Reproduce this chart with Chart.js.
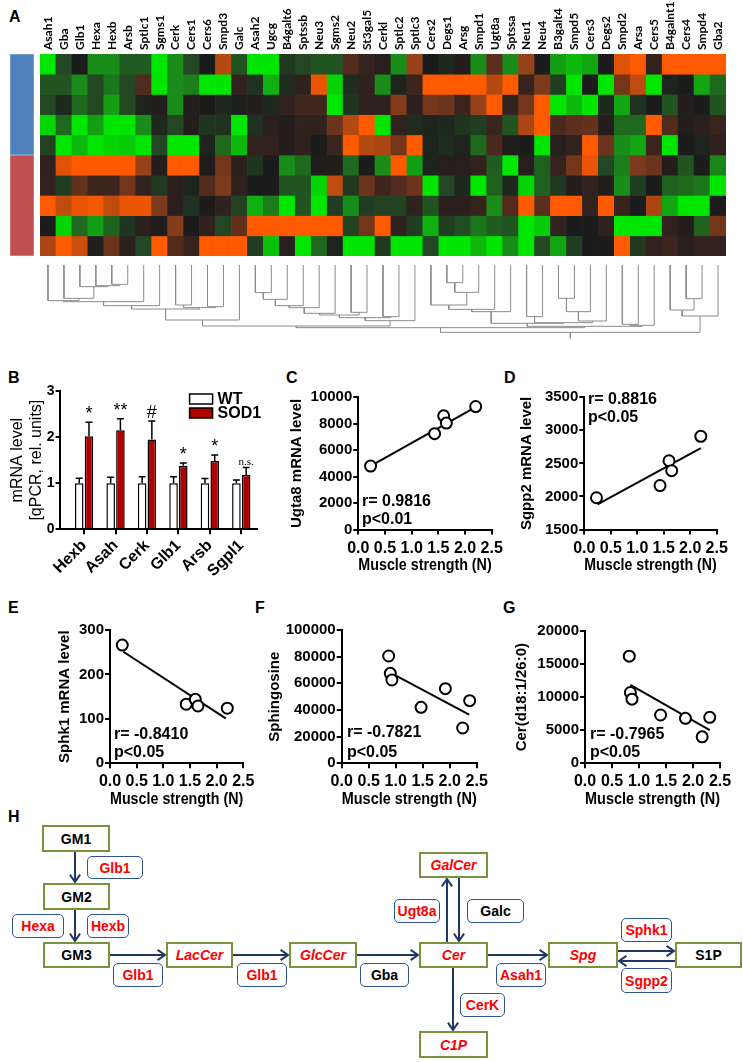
<!DOCTYPE html>
<html>
<head>
<meta charset="utf-8">
<script src="https://cdn.jsdelivr.net/npm/chart.js@4.4.1/dist/chart.umd.min.js"></script>
<style>
body{margin:0;background:#fff;width:743px;height:1062px;position:relative;overflow:hidden;font-family:"Liberation Sans",Arial,sans-serif;}
canvas{position:absolute;}
.lab{position:absolute;font-weight:bold;font-size:16px;line-height:18px;}
.box{position:absolute;box-sizing:border-box;display:flex;align-items:center;justify-content:center;font-weight:bold;font-size:14px;background:#fff;}
.g{border:2px solid #77933c;color:#000;}
.e{border:1.5px solid #2f5496;border-radius:5px;color:#f00;}
.it{color:#f00;font-style:italic;}
.k{color:#000;}
svg{position:absolute;left:0;top:0;}
</style>
</head>
<body>
<div class="lab" style="left:9px;top:8px">A</div>
<div class="lab" style="left:8px;top:369px">B</div>
<div class="lab" style="left:286px;top:369px">C</div>
<div class="lab" style="left:504px;top:369px">D</div>
<div class="lab" style="left:8px;top:599px">E</div>
<div class="lab" style="left:255px;top:599px">F</div>
<div class="lab" style="left:503px;top:599px">G</div>
<div class="lab" style="left:8px;top:808px">H</div>

<svg id="arrows" width="743" height="1062"></svg>

<div class="box g" style="left:42px;top:825px;width:68px;height:27px">GM1</div>
<div class="box e" style="left:87px;top:856px;width:56px;height:23px">Glb1</div>
<div class="box g" style="left:43px;top:883px;width:67px;height:27px">GM2</div>
<div class="box e" style="left:12px;top:914px;width:52px;height:24px">Hexa</div>
<div class="box e" style="left:87px;top:914px;width:42px;height:24px">Hexb</div>
<div class="box g" style="left:43px;top:942px;width:67px;height:26px">GM3</div>
<div class="box g it" style="left:166px;top:942px;width:67px;height:26px">LacCer</div>
<div class="box g it" style="left:289px;top:942px;width:68px;height:26px">GlcCer</div>
<div class="box g it" style="left:419px;top:942px;width:69px;height:26px">Cer</div>
<div class="box g it" style="left:548px;top:942px;width:70px;height:26px">Spg</div>
<div class="box g" style="left:675px;top:942px;width:67px;height:26px">S1P</div>
<div class="box g it" style="left:419px;top:852px;width:69px;height:26px">GalCer</div>
<div class="box g it" style="left:419px;top:1031px;width:69px;height:27px">C1P</div>
<div class="box e" style="left:113px;top:963px;width:50px;height:24px">Glb1</div>
<div class="box e" style="left:237px;top:963px;width:50px;height:24px">Glb1</div>
<div class="box e k" style="left:360px;top:963px;width:49px;height:24px">Gba</div>
<div class="box e" style="left:496px;top:963px;width:50px;height:24px">Asah1</div>
<div class="box e" style="left:621px;top:918px;width:51px;height:24px">Sphk1</div>
<div class="box e" style="left:621px;top:968px;width:51px;height:25px">Sgpp2</div>
<div class="box e" style="left:394px;top:899px;width:46px;height:24px">Ugt8a</div>
<div class="box e k" style="left:467px;top:899px;width:57px;height:24px">Galc</div>
<div class="box e" style="left:460px;top:993px;width:45px;height:24px">CerK</div>

<script>
// ---- panel A: heatmap ----
var genes = ['Asah1','Gba','Glb1','Hexa','Hexb','Arsb','Sptlc1','Sgms1','Cerk','Cers1','Cers6','Smpd3','Galc','Asah2','Ugcg','B4galt6','Sptssb','Neu3','Sgms2','Neu2','St3gal5','Cerkl','Sptlc2','Sptlc3','Cers2','Degs1','Arsg','Smpd1','Ugt8a','Sptssa','Neu1','Neu4','B3galt4','Smpd5','Cers3','Degs2','Smpd2','Arsa','Cers5','B4galnt1','Cers4','Smpd4','Gba2'];

var wt1 = [-3,-1,0,-2,-2,-1.3,-1.3,-3,-2,-1,0,2.3,-1.2,-3,-3,-0.7,-1,-1.2,-1.2,1.2,0.7,0.3,-2,2,0,-0.3,0.2,-2,1.3,-2,2,0,-2.2,-2.5,-2.3,0,2.7,3,0.6,3,3,3,3];
var wt2 = [-1.2,-1.2,-2,-1,-1.7,-1,1.2,-3,-2,-1.8,-3,-3,0.6,-0.5,-2.4,-0.4,0.5,2.8,-2.8,-0.4,0.5,-2,-0.2,0.9,3,3,3,3,2.3,3,0.7,1.7,-0.8,-3,0,-3,1.6,2.4,-3,-0.2,0,-2.3,-1.5];
var wt3 = [-1,-0.3,-1.5,-1,-2.2,-1,-0.2,0.2,-2,0.2,0,-0.3,-0.1,0.2,-0.3,0.6,1,1,-3,-0.6,0.5,0.5,1.8,0.4,1.6,1.5,0.8,2,3,0.6,1.6,3,-3,-2.5,-3,-0.3,-2.3,-0.5,0,-1.2,0.2,0,-1.2];
var wt4 = [-2.8,-1.5,-3,-2.2,-3,-3,-2,-0.3,-1,0.2,-0.6,-0.5,-3,-0.5,0.4,0.2,0.6,0.5,1.5,2.3,3,-3,0.6,-0.4,-0.2,-0.3,-0.6,-0.8,0.8,-1.2,2.2,3,1.1,1.3,1.4,0.2,-1.5,-1.5,3,1.2,0.2,0.4,0.8];
var wt5 = [-0.9,-3,-2.5,-3,-2.8,-2.7,-3,-1,-3,-3,-0.2,-1.5,-2.5,0.6,0.6,0.2,0.5,0,0.8,3,2.3,2.2,1.6,3,-0.2,-0.4,-0.2,-1.5,1.1,0.1,0,-3,0.3,0.6,3,1.5,-2,-2.3,0.8,-3,0,-0.2,0.5];
var sod1 = [0.5,2.7,3,3,3,3,2,0.2,3,3,0.1,1.6,0.4,-0.6,0,-2,-1.5,0.1,0.2,-1.5,0,-2,3,-2.2,-0.2,0.3,0.3,0.6,-1.3,-3,0.3,-1.4,0.7,1.6,2.8,-1,-1.8,1.7,1.5,0.2,-1.2,0,-1.9];
var sod2 = [0.6,-0.8,1.4,0.9,0.9,1.6,0.6,-0.7,0.4,-0.2,1.2,1.7,0.5,0,0,-1.2,-1.2,-2.8,2.4,-0.7,1.5,0.9,1.2,1.5,-3,-1,-0.3,-3,-1.4,-0.3,-2.8,-1.4,-0.7,0.2,0.6,0.2,-2,-0.8,0,-1.4,-1.5,-1.7,-3];
var sod3 = [3,2.4,2.8,2.9,2.4,2.8,2.8,1.7,0.4,-0.5,0,0.5,-0.9,-2.4,-1.8,-3,-1.2,-3,-0.8,-2,-0.8,-0.9,-0.9,0.5,-1.2,0.4,0.4,0.7,-2,1.2,3,1.3,3,3,0.6,3,0.7,0,2.2,-2.3,-3,-3,0];
var sod4 = [0,-2.8,-1.5,-2.2,-1.4,-0.6,0.4,0.1,1.8,0,0.5,-1,1.4,3,3,3,3,3,3,-0.9,1.6,3,0.5,-0.8,-2.4,-0.8,-1.1,-1.7,-1.3,-1.2,-3,-2.7,0.6,0,0,0.5,-3,-3,-3,0.6,0.2,-1.4,1.6];
var sod5 = [2.2,3,2.5,0.2,1.5,0.4,-1,3,1.2,0.7,3,3,3,-0.8,-2.6,0.3,-3,-1.5,-0.2,-3,-3,-0.7,-3,-3,-1,-3,-3,-2.5,-3,-2,-3,-1,-2.3,-0.8,0,0,3,-0.7,0.6,0.9,0.3,0.6,0.6];
var groupSizes = [5, 5];   // WT, SOD1

// dendrogram merges: [left node, right node, height]; leaves are 0..42
var merges = [
  [4,5,88],[3,43,92],[2,44,95],[1,45,130],[0,46,137],[47,6,140],[48,7,152],
  [8,9,150],[10,11,155],[50,51,158],[49,52,162],[53,12,195],
  [13,14,113],[55,15,133],[56,16,152],[57,17,158],[19,20,172],[58,18,175],[60,59,180],
  [21,22,185],[61,62,188],[63,23,197],[54,64,213],
  [25,26,83],[66,27,112],[24,67,150],[68,28,163],[69,29,170],[30,31,185],[32,33,130],
  [72,34,170],[73,35,198],[71,74,203],[70,75,205],[36,37,208],[77,38,211],[76,78,214],
  [65,79,218],[40,41,131],[39,81,165],[82,42,183],[80,83,232]
];

// ---- panel B ----
var bGenes = ['Hexb','Asah','Cerk','Glb1','Arsb','Sgpl1'];
var bWT = [1,1,1,1,1,1];
var bWTerr = [0.11,0.13,0.14,0.14,0.1,0.07];
var bSOD = [2.02,2.15,1.95,1.38,1.48,1.18];
var bSODerr = [0.3,0.25,0.4,0.06,0.13,0.16];
var bMarks = ['*','**','#','*','*','n.s.'];

// ---- panels C-G ----
var strength5 = [0.23,1.43,1.6,1.65,2.2];
var ugt8a = [4800,7250,8600,8050,9300];
var sgpp2 = [1980,2165,2540,2390,2910];
var sphk1 = [266,133,144,129,124];
var strengthF = [0.87,0.9,0.93,1.47,1.92,2.24,2.37];
var sphingosine = [80500,67500,62500,42000,56000,26500,47000];
var strengthG = [0.82,0.84,0.87,1.4,1.86,2.17,2.31];
var cer26 = [16200,10700,9700,7300,6800,4000,6950];

var fitC = [[0.25,2.2],[4850,9250]];
var fitD = [[0.25,2.2],[1880,2730]];
var fitE = [[0.25,2.17],[251,101]];
var fitF = [[0.9,2.36],[68000,36500]];
var fitG = [[0.84,2.31],[11850,5000]];

Chart.defaults.font.family = '"Liberation Sans", Arial, sans-serif';
Chart.defaults.color = '#000';

function mk(id, L, T, W, H){
  var c = document.createElement('canvas');
  c.id = id; c.width = W; c.height = H;
  c.style.left = L + 'px'; c.style.top = T + 'px';
  c.style.width = W + 'px'; c.style.height = H + 'px';
  document.body.appendChild(c);
  return c;
}

var stops = [[-3,[0,230,0]],[-2,[25,140,25]],[-1,[35,70,35]],[0,[28,28,28]],[1,[65,38,30]],[2,[150,65,25]],[3,[255,90,0]]];
function heatColor(v){
  v = Math.max(-3, Math.min(3, v));
  for (var i = 0; i < stops.length - 1; i++){
    var a = stops[i], b = stops[i+1];
    if (v <= b[0]){
      var t = (v - a[0]) / (b[0] - a[0]);
      var c = a[1].map(function(x, k){ return Math.round(x + (b[1][k] - x) * t); });
      return 'rgb(' + c.join(',') + ')';
    }
  }
  return 'rgb(255,90,0)';
}

var base = {responsive:false, animation:false, events:[], plugins:{legend:{display:false}, tooltip:{enabled:false}}};
function opts(extra){ return Object.assign({}, base, extra); }

// heatmap
var rows = [wt1,wt2,wt3,wt4,wt5,sod1,sod2,sod3,sod4,sod5];
new Chart(mk('heat',0,0,743,258), {
  type:'bar',
  data:{labels:genes, datasets:rows.map(function(r){
    return {data:r.map(function(){return 1;}), backgroundColor:r.map(heatColor), borderWidth:0, barPercentage:1, categoryPercentage:1};
  })},
  options:opts({
    layout:{padding:{left:40,right:17,top:0,bottom:2}},
    scales:{
      x:{position:'top', stacked:true, grid:{display:false, drawTicks:false}, border:{display:false},
         ticks:{autoSkip:false, minRotation:90, maxRotation:90, padding:4, labelOffset:14.4,
                font:{family:'Lato', weight:'bold', size:12}},
         afterFit:function(s){ s.height = 54; }},
      y:{stacked:true, display:false, min:0, max:10, reverse:true}
    }
  })
});

// group bar
new Chart(mk('grp',10,54,24,202), {
  type:'bar',
  data:{labels:[''], datasets:[
    {data:[groupSizes[0]], backgroundColor:'#4f81bd', borderColor:'#86a9d8', borderWidth:1, borderSkipped:false, barPercentage:1, categoryPercentage:1},
    {data:[groupSizes[1]], backgroundColor:'#c0504d', borderColor:'#d98a88', borderWidth:1, borderSkipped:false, barPercentage:1, categoryPercentage:1}
  ]},
  options:opts({
    layout:{padding:0},
    scales:{x:{stacked:true, display:false}, y:{stacked:true, display:false, min:0, max:10, reverse:true}}
  })
});

// dendrogram
var pos = [], hgt = [];
for (var i = 0; i < genes.length; i++){ pos[i] = i; hgt[i] = 30; }
var dsets = [];
merges.forEach(function(m, k){
  var id = genes.length + k;
  pos[id] = (pos[m[0]] + pos[m[1]]) / 2; hgt[id] = m[2];
  dsets.push({data:[{x:pos[m[0]],y:hgt[m[0]]},{x:pos[m[0]],y:m[2]},{x:pos[m[1]],y:m[2]},{x:pos[m[1]],y:hgt[m[1]]}],
    showLine:true, pointRadius:0, borderColor:'#8c8c8c', borderWidth:1});
});
var root = genes.length + merges.length - 1;
dsets.push({data:[{x:pos[root],y:hgt[root]},{x:pos[root],y:250}], showLine:true, pointRadius:0, borderColor:'#8c8c8c', borderWidth:1});
new Chart(mk('dendro',0,255,743,110), {
  type:'scatter',
  data:{datasets:dsets},
  options:opts({
    layout:{padding:{left:40,right:17,top:0,bottom:0}},
    scales:{x:{display:false,min:-0.5,max:42.5}, y:{display:false,min:0,max:330,reverse:true}}
  })
});

// ---- panel B ----
var plainNum = function(v){ return String(v); };
var barExtras = {
  id:'barExtras',
  afterDatasetsDraw:function(chart){
    var ctx = chart.ctx, ys = chart.scales.y;
    ctx.save();
    ctx.strokeStyle = '#000'; ctx.lineWidth = 1.5;
    [[bWT,bWTerr],[bSOD,bSODerr]].forEach(function(pair, d){
      chart.getDatasetMeta(d).data.forEach(function(el, i){
        var y0 = ys.getPixelForValue(pair[0][i]), y1 = ys.getPixelForValue(pair[0][i] + pair[1][i]);
        ctx.beginPath();
        ctx.moveTo(el.x, y0); ctx.lineTo(el.x, y1);
        ctx.moveTo(el.x - 3.5, y1); ctx.lineTo(el.x + 3.5, y1);
        ctx.stroke();
      });
    });
    ctx.fillStyle = '#000'; ctx.textAlign = 'center'; ctx.textBaseline = 'alphabetic';
    chart.getDatasetMeta(1).data.forEach(function(el, i){
      var y1 = ys.getPixelForValue(bSOD[i] + bSODerr[i]);
      ctx.font = bMarks[i] === 'n.s.' ? '11px "Liberation Serif", serif' : '18px "Liberation Sans", Arial';
      ctx.fillText(bMarks[i], el.x, y1 - 3);
    });
    // legend
    var a = chart.chartArea;
    var items = [['WT', '#fff'], ['SOD1', '#b00000']];
    items.forEach(function(it, k){
      var bx = a.left + 130, by = a.top + 3 + k * 14;
      ctx.fillStyle = it[1]; ctx.fillRect(bx, by, 23, 10);
      ctx.strokeStyle = '#000'; ctx.lineWidth = 1.5; ctx.strokeRect(bx, by, 23, 10);
      ctx.fillStyle = '#000'; ctx.font = 'bold 16px "Liberation Sans", Arial';
      ctx.textAlign = 'left'; ctx.textBaseline = 'middle';
      ctx.fillText(it[0], bx + 28, by + 5.5);
    });
    ctx.restore();
  }
};
new Chart(mk('barB',8,380,254,200), {
  type:'bar',
  data:{datasets:[
    {label:'WT', data:bWT.map(function(v,i){return {x:i,y:v};}), backgroundColor:'#fff', borderColor:'#000', borderWidth:1.5},
    {label:'SOD1', data:bSOD.map(function(v,i){return {x:i,y:v};}), backgroundColor:'#b00000', borderColor:'#000', borderWidth:1.5}
  ]},
  options:opts({
    layout:{padding:{left:0,top:11,right:5,bottom:0}},
    datasets:{bar:{categoryPercentage:0.62, barPercentage:0.88}},
    scales:{
      x:{type:'linear', min:-0.78, max:5.5, offset:false,
         ticks:{stepSize:1, includeBounds:false, autoSkip:false, minRotation:45, maxRotation:45, padding:2,
           font:{weight:'bold', size:16}, callback:function(v){ return bGenes[v] || ''; }},
         grid:{drawOnChartArea:false, offset:false, tickLength:5, color:'#000', lineWidth:2},
         border:{color:'#000', width:2},
         afterFit:function(s){ s.height = 50.7; }},
      y:{min:0, max:3,
         ticks:{stepSize:1, padding:1, font:{weight:'bold', size:14}, callback:plainNum},
         grid:{drawOnChartArea:false, tickLength:4, color:'#000', lineWidth:2},
         border:{color:'#000', width:2},
         title:{display:true, text:['mRNA level','[qPCR, rel. units]'], font:{size:16}, padding:0},
         afterFit:function(s){ s.width = 51.6; }}
    }
  }),
  plugins:[barExtras]
});

// ---- scatter panels ----
var statText = {
  id:'statText',
  afterDraw:function(chart, args, o){
    var ctx = chart.ctx;
    ctx.save();
    ctx.font = 'bold 16px "Liberation Sans", Arial';
    ctx.fillStyle = '#000'; ctx.textAlign = 'left'; ctx.textBaseline = 'middle';
    o.lines.forEach(function(l){ ctx.fillText(l[0], l[1], l[2]); });
    ctx.restore();
  }
};
function scatterPanel(c){
  var a = c.area;
  new Chart(mk(c.id, c.L, c.T, c.W, c.H), {
    type:'scatter',
    data:{datasets:[
      {data:c.xs.map(function(x,i){return {x:x,y:c.ys[i]};}), pointRadius:5.5, pointBorderWidth:2, pointBorderColor:'#000', pointBackgroundColor:'#fff'},
      {data:[{x:c.fit[0][0],y:c.fit[1][0]},{x:c.fit[0][1],y:c.fit[1][1]}], showLine:true, pointRadius:0, borderColor:'#000', borderWidth:2}
    ]},
    options:Object.assign({}, base, {
      layout:{padding:{left:0, top:a[1]-c.T, right:c.L+c.W-a[2], bottom:0}},
      plugins:{legend:{display:false}, tooltip:{enabled:false},
        statText:{lines:c.text.map(function(t){ return [t[0], t[1]-c.L, t[2]-c.T]; })}},
      scales:{
        x:{min:0, max:2.5,
           ticks:{stepSize:0.5, autoSkip:false, maxRotation:0, padding:4, font:{weight:'bold', size:16},
                  callback:function(v){ return v.toFixed(1); }},
           grid:{drawOnChartArea:false, tickLength:5, color:'#000', lineWidth:2},
           border:{color:'#000', width:2},
           title:{display:true, text:'Muscle strength (N)', font:{weight:'bold', size:17}, padding:0},
           afterFit:function(s){ s.height = c.T + c.H - a[3]; }},
        y:{min:c.yr[0], max:c.yr[1],
           ticks:{stepSize:c.yr[2], padding:1, font:{weight:'bold', size:15}, callback:plainNum},
           grid:{drawOnChartArea:false, tickLength:5, color:'#000', lineWidth:2},
           border:{color:'#000', width:2},
           title:{display:true, text:c.yTitle, font:{weight:'bold', size:15}, padding:0},
           afterFit:function(s){ s.width = a[0] - c.L; }}
      }
    }),
    plugins:[statText]
  });
}

scatterPanel({id:'pC', L:288, T:380, W:224, H:196, area:[358.3,397.3,491.7,529.5],
  xs:strength5, ys:ugt8a, fit:fitC, yr:[0,10000,2000], yTitle:'Ugta8 mRNA level',
  text:[['r= 0.9816',362,502],['p<0.01',362,520]]});
scatterPanel({id:'pD', L:518, T:380, W:219, H:196, area:[584.3,397.3,716.7,529.5],
  xs:strength5, ys:sgpp2, fit:fitD, yr:[1500,3500,500], yTitle:'Sgpp2 mRNA level',
  text:[['r= 0.8816',588,400],['p<0.05',588,418]]});
scatterPanel({id:'pE', L:56, T:612, W:207, H:198, area:[110,630,243.3,763.3],
  xs:strength5, ys:sphk1, fit:fitE, yr:[0,300,100], yTitle:'Sphk1 mRNA level',
  text:[['r= -0.8410',114,735],['p<0.05',114,753]]});
scatterPanel({id:'pF', L:266, T:612, W:231, H:198, area:[341.7,630,476.7,763.3],
  xs:strengthF, ys:sphingosine, fit:fitF, yr:[0,100000,20000], yTitle:'Sphingosine',
  text:[['r= -0.7821',347,733],['p<0.05',347,753]]});
scatterPanel({id:'pG', L:513, T:612, W:227, H:198, area:[585,631,720,763.3],
  xs:strengthG, ys:cer26, fit:fitG, yr:[0,20000,5000], yTitle:'Cer(d18:1/26:0)',
  text:[['r= -0.7965',590,735],['p<0.05',590,753]]});

// ---- panel H arrows ----
var svg = document.getElementById('arrows');
function arrow(x1, y1, x2, y2){
  var ang = Math.atan2(y2 - y1, x2 - x1), L = 9, s = 0.6;
  var d = 'M' + x1 + ' ' + y1 + 'L' + x2 + ' ' + y2 +
    'M' + (x2 - L * Math.cos(ang - s)) + ' ' + (y2 - L * Math.sin(ang - s)) + 'L' + x2 + ' ' + y2 +
    'L' + (x2 - L * Math.cos(ang + s)) + ' ' + (y2 - L * Math.sin(ang + s));
  var p = document.createElementNS('http://www.w3.org/2000/svg', 'path');
  p.setAttribute('d', d); p.setAttribute('stroke', '#1f3864'); p.setAttribute('stroke-width', '2');
  p.setAttribute('fill', 'none');
  svg.appendChild(p);
}
arrow(75,852,75,882);
arrow(75,910,75,941);
arrow(110,955,165,955);
arrow(233,955,288,955);
arrow(357,955,418,955);
arrow(488,955,547,955);
arrow(618,951,674,951);
arrow(675,961,619,961);
arrow(447,942,447,879);
arrow(459,878,459,941);
arrow(453,968,453,1030);
</script>
</body>
</html>
